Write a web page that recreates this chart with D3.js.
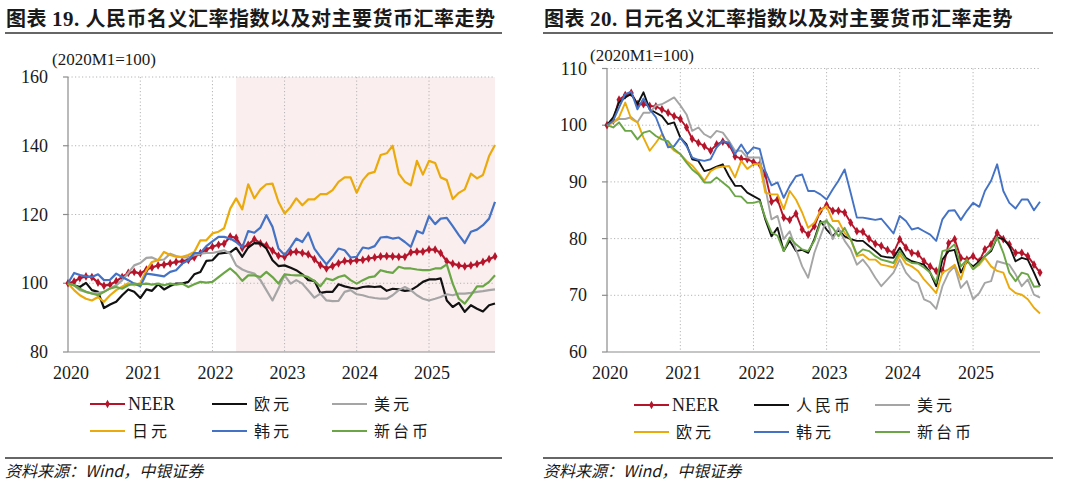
<!DOCTYPE html>
<html>
<head>
<meta charset="utf-8">
<script src="https://cdn.jsdelivr.net/npm/d3@7"></script>
<style>
body{margin:0;background:#fff;}
svg{display:block;}
.num{font-family:"Liberation Serif","Times New Roman",serif;fill:#1a1a1a;}
.cjk{font-family:"Noto Sans CJK SC",sans-serif;fill:#1a1a1a;}
</style>
</head>
<body>
<svg id="chart" width="1080" height="488"></svg>
<script>
var months = d3.timeMonth.range(new Date(2020,0,1), new Date(2026,0,1));
var yearLabels = [2020,2021,2022,2023,2024,2025];

// 图表19 人民币
var neerL = [100,100.5,101.5,102,101.8,100.2,99.3,99.6,100.6,101.8,
	103,103.3,102.8,104,104.6,105.2,105.4,105.8,106.2,106.4,
	106.8,107.5,108.8,109.8,110.6,111.2,111.5,113.6,113.2,110.3,
	111.2,112.8,111.6,111,109.5,108,107.7,109,109.2,108.8,
	108.4,107,105.3,104.3,105,105.8,106.5,106.4,106.7,106.8,
	107.2,107.5,107.8,107.9,107.8,107.7,107.7,109,109.2,109.2,
	109.8,109.8,108.8,106.4,105.7,105.2,104.9,105.2,105.6,106.2,
	107,107.8];
var eurL = [100,99.4,98.9,100.1,98,97.5,92.8,93.8,94.6,96.5,
	98.2,97.5,95.7,98.2,97.8,99.7,98.2,99.2,99.9,99.9,
	100.4,102.6,103.3,106.5,106.7,108.6,108.8,109,110.3,107.7,
	110.4,111.7,111.6,110.1,106.7,105,105.2,104.5,103.8,102.6,
	100.9,100.7,97.2,97.5,97.5,99.7,99.1,98.7,98.4,98.9,
	99.1,98.9,99.1,97.8,98.4,98.2,97.8,98,99.1,100.4,
	101.1,101.1,101.4,95,93.1,94.3,91.7,93.6,92.6,91.8,
	93.6,94.1];
var usdL = [100,99.4,98,97.5,97,97.2,97.5,98.5,99.4,100.9,
	103,105.2,105.9,107.4,107.5,106.7,106.9,108.6,107.9,107.5,
	107.5,108.2,108.6,108.8,108.8,109.2,109.6,108.6,105.2,104,
	103.3,102.8,100.9,98,95,98.5,102.3,99.9,100.9,99.9,
	97.9,95.8,97,95,94.8,94.9,97.5,98,96.8,96.5,
	96,95.7,95.5,95.5,96.5,98,98.9,98,96.5,95.5,
	95,95.5,96,96.8,96.5,97,97,97.2,97.5,97.7,
	98,98.2];
var jpyL = [100,98,96.5,95.5,95,96,94.6,96.5,98,99,
	100,99.4,100,103.8,106.2,106.7,109.1,108.2,107.7,107.7,
	108.2,109.1,112.5,112.5,114.5,115,116,121.7,124.7,121.5,
	128.8,124.7,127.3,128.8,129,123.7,120.3,122.2,124.7,122.7,
	124.4,124.4,125.9,125.9,127.1,129.5,130.8,130.8,126.3,130,
	131.9,132.4,137.3,137.8,140,131.9,129.5,128.5,135.6,131.6,
	135.6,135,130.8,130,124.5,126.3,127.3,131.9,130.5,131.5,
	137,140.2];
var krwL = [100,103,102.4,102,101.8,102.6,100.9,101,102.8,101.8,
	100.9,99.9,99.1,102.8,102.6,102.3,102,103.3,103.8,105.7,
	106.7,108.8,108.8,110.8,112.2,113.5,113.5,113,112,110.4,
	115.2,114.7,116.2,119.8,116.4,110.1,108.2,110.5,113,112,
	114.7,110.1,107.7,105.5,107.7,110.1,109.6,107.5,107.7,110.4,
	110.1,110.8,113.3,113.5,113,113.3,112,110.6,115.2,114.5,
	119.5,117.2,118.8,119,116.6,114,111.7,115,115.6,116.9,
	118.8,123.7];
var twdL = [100,99.4,98.4,97.5,97,96.5,97.5,98.5,98.9,98.4,
	99.4,99.9,99.7,99.9,99.6,99.9,99.4,99.9,99.6,99.9,
	98.9,99.7,100.4,100.2,100.4,101.8,103,104.3,102.8,100.7,
	102.3,102.3,101.8,103.3,101.8,99.9,102.6,102.4,102.3,102.3,
	101.8,100.7,99.1,101.4,100.9,101.8,102.3,100.9,99.9,100.9,
	101.7,102,103.8,103.3,103,104.8,104.3,104.3,104,103.8,
	103.8,104.3,104.3,105.5,99.9,95.5,94.1,96.5,99.1,99.1,
	100.4,102.3];

// 图表20 日元
var neerR = [100,100.8,104.5,105.3,105.7,103.7,103.7,103.4,103.3,102.8,
	102.2,101.6,101.1,99.6,97.6,96.9,96.3,95.5,96.6,97.1,
	96.6,94.5,94.1,94,93.5,93.1,91.3,86.5,86.9,83.7,
	83.3,84.4,81.6,80.7,82.2,84.9,85.9,84.9,84.9,84.6,
	82.8,81.3,81.2,80,79.1,78.7,78,77.5,79.9,78.4,
	77.5,77.3,76,75.1,74.3,74.3,79.2,79.9,76.6,76.3,
	76.9,76,78.1,79,81,79.9,79,77.5,77.5,76.9,
	75.4,74];
var cnyR = [100,101.4,104,104.9,105.5,103.7,105.8,102.8,102.2,101.6,
	100.2,100.5,97.8,96.6,94,93.7,91.9,92.2,92.7,93.1,
	91,89.3,89.3,88.1,87.5,86.9,83.4,80.4,81.9,77.8,
	79.6,77.8,78,77.5,79.9,83.1,81.6,80.4,81.6,80.4,
	79.9,79.6,79.6,78.7,77.8,76.9,76.7,76.6,78.4,76.6,
	76,75.7,75.4,74,71.6,76.3,77.8,78,74,76,
	75.1,76,76.9,77.8,80.2,79.9,78.7,76,76.6,76.3,
	74,71.6];
var usdR = [100,100.5,101.1,101.1,101.4,100.5,102.2,102.2,103.5,103.7,
	104.3,104.9,103.5,101.9,99,99.6,98.4,97.8,99,98.7,
	97.2,95.5,95.5,94.3,94.3,94.3,89,83.4,84,79.9,
	81.3,78.1,75.1,73.1,77.5,80.4,83.4,79.9,81.9,79.6,
	78.1,75.4,76.3,74.9,73.1,71.6,72.8,74,76.3,74,
	72.8,72.2,69.3,68.8,67.6,71.6,74,75.1,71.3,72.5,
	69.3,70.4,72.2,72.5,76,75.7,75.4,73.7,71.6,72.8,
	70.1,69.6];
var eurR = [100,100.5,101.4,104,101.1,100.5,97.8,95.5,96.9,98.4,
	96.6,95.5,94.9,93.7,92.9,91.6,90.2,91.9,92.5,92.7,
	92.8,90.8,93.7,92.3,93.1,93.1,88.1,87.8,87.8,85.2,
	88.4,86.9,84.6,81.9,82.8,84.9,85.7,83.1,83.1,81,
	79.9,76.9,77.2,76.3,76.3,75.4,75.2,74.9,77.2,75.6,
	75.1,74.3,72.8,71.6,70.4,74,74.6,75.4,72.8,76.3,
	74.6,75.4,76.6,75.1,74.3,74,71.3,70.4,70.1,69.3,
	67.8,66.8];
var krwR = [100,100.8,103.1,105.5,105.9,102.8,104.7,102.8,101.4,98.7,
	96.1,96.3,97.8,96.3,94.3,93.9,93.7,94,96.1,97.2,
	96.9,94.9,96.6,94.9,96.1,95.8,91.9,89.4,89.9,87.2,
	89.3,91,91.3,88.4,88.4,87.8,86.9,88.7,90.2,92.2,
	88.1,83.7,83.7,83.5,83.3,83.5,82.2,80.9,84,83.1,
	81.6,81.9,81.3,80.7,79.6,83.4,84.9,85,83.3,84.9,
	86.3,85.6,88.4,90.2,93.1,88.4,86.3,85.3,86.9,86.9,
	85,86.5];
var twdR = [100,99.6,100.5,99,99,97.5,98.7,99,98.1,97.5,
	97.2,95.8,94.9,93.4,92.2,91.3,89.9,89.9,90.8,89.9,
	89,87.5,87.4,86.3,86.3,86.6,83.7,81.1,80.5,77.8,
	80.2,79,78.1,77.8,79.6,82.8,83.1,81.9,80.4,81.9,
	79.9,77.2,78.1,77.8,76.9,76.3,76,75.7,77.8,76.3,
	75.7,75.6,74.9,74,72.2,77.8,78.1,79,75.1,76.3,
	74.6,75.7,76.9,78.1,80.2,77.5,74,72.5,74,73.7,
	71.5,71.6];

var yTicksL = [80,100,120,140,160];
var yTicksR = [60,70,80,90,100,110];
var shadeL = [new Date(2022,4,1), months[months.length-1]];

var C = {neer:'#b5152b', black:'#111', gray:'#a5a5a5', gold:'#ebaa0c', blue:'#4472c4', green:'#6aa645'};

var svg = d3.select('#chart');

function drawPanel(p){
	var g = svg.append('g'),
		x = d3.scaleTime().domain([months[0], months[months.length-1]]).range([p.left, p.right]),
		y = d3.scaleLinear().domain([p.yTicks[0], p.yTicks[p.yTicks.length-1]]).range([p.bottom, p.top]);

	// title
	var t = g.append('text').attr('class','cjk').attr('x',p.x0+1).attr('y',26)
		.style('font-size','20px').style('font-weight','bold').style('letter-spacing','0.5px');
	t.append('tspan').text('图表 ');
	t.append('tspan').attr('class','num').style('font-size','21px').text(p.num+'. ');
	t.append('tspan').text(p.title);
	g.append('line').attr('x1',p.x0).attr('x2',p.x1).attr('y1',33).attr('y2',33)
		.attr('stroke','#333').attr('stroke-width',1.6);

	if (p.shade){
		g.append('rect').attr('x',x(p.shade[0])).attr('y',p.top)
			.attr('width',x(p.shade[1])-x(p.shade[0])).attr('height',p.bottom-p.top)
			.attr('fill','#fbeeee');
	}

	// grid
	g.selectAll('.hgrid').data(p.yTicks.slice(1)).enter().append('line')
		.attr('x1',p.left).attr('x2',p.right)
		.attr('y1',function(d){ return y(d); }).attr('y2',function(d){ return y(d); })
		.attr('stroke','#b4b4b4').attr('stroke-dasharray','1.2,2.3');
	g.selectAll('.vgrid').data(yearLabels.slice(1)).enter().append('line')
		.attr('x1',function(d){ return x(new Date(d,0,1)); }).attr('x2',function(d){ return x(new Date(d,0,1)); })
		.attr('y1',p.top).attr('y2',p.bottom)
		.attr('stroke','#b4b4b4').attr('stroke-dasharray','1.2,2.3');

	// axes
	g.append('line').attr('x1',p.left).attr('x2',p.left).attr('y1',p.top).attr('y2',p.bottom)
		.attr('stroke','#8c8c8c').attr('stroke-width',1.2);
	g.append('line').attr('x1',p.left).attr('x2',p.right).attr('y1',p.bottom).attr('y2',p.bottom)
		.attr('stroke','#8c8c8c').attr('stroke-width',1.2);
	g.selectAll('.ytick').data(p.yTicks).enter().append('line')
		.attr('x1',p.left-5).attr('x2',p.left)
		.attr('y1',function(d){ return y(d); }).attr('y2',function(d){ return y(d); })
		.attr('stroke','#8c8c8c').attr('stroke-width',1.2);
	g.selectAll('.ylab').data(p.yTicks).enter().append('text')
		.attr('class','num').attr('x',p.left-20).attr('y',function(d){ return y(d)+6; })
		.attr('text-anchor','end').style('font-size','18px').text(function(d){ return d; });
	g.selectAll('.xlab').data(yearLabels).enter().append('text')
		.attr('class','num').attr('x',function(d){ return x(new Date(d,0,1))+3; }).attr('y',p.bottom+27)
		.attr('text-anchor','middle').style('font-size','18px').text(function(d){ return d; });
	g.append('text').attr('class','num').attr('x',p.unitX).attr('y',p.unitY)
		.style('font-size','17px').text('(2020M1=100)');

	// series
	var line = d3.line()
		.x(function(d,i){ return x(months[i]); })
		.y(function(d){ return y(d); });
	p.series.forEach(function(s){
		g.append('path').attr('d',line(s.data)).attr('fill','none')
			.attr('stroke',s.color).attr('stroke-width',p.lw).attr('stroke-linejoin','round');
		if (s.marker){
			g.selectAll('.mk').data(s.data).enter().append('path')
				.attr('d',d3.symbol().type(d3.symbolDiamond).size(22))
				.attr('transform',function(d,i){ return 'translate('+x(months[i])+','+y(d)+')'; })
				.attr('fill',s.color);
		}
	});

	// legend
	p.series.forEach(function(s,i){
		var lx = p.legendX[i%3], ly = p.legendY[Math.floor(i/3)];
		g.append('line').attr('x1',lx).attr('x2',lx+35).attr('y1',ly).attr('y2',ly)
			.attr('stroke',s.color).attr('stroke-width',2.2);
		if (s.marker){
			g.append('path').attr('d',d3.symbol().type(d3.symbolDiamond).size(20))
				.attr('transform','translate('+(lx+17.5)+','+ly+')').attr('fill',s.color);
		}
		var isNum = /^[A-Z]+$/.test(s.name);
		g.append('text').attr('class',isNum ? 'num' : 'cjk')
			.attr('x',lx+(isNum ? 38 : 42)).attr('y',ly+(isNum ? 6 : 5.5))
			.style('font-size',isNum ? '18px' : '16px').style('letter-spacing',isNum ? '0px' : '3px')
			.text(s.name);
	});

	// source
	g.append('line').attr('x1',p.x0).attr('x2',p.x1).attr('y1',458).attr('y2',458)
		.attr('stroke','#333').attr('stroke-width',1.3);
	g.append('text').attr('class','cjk').attr('x',p.x0).attr('y',477)
		.style('font-size','16px').style('font-style','italic')
		.text('资料来源：Wind，中银证券');
}

drawPanel({
	num:19, title:'人民币名义汇率指数以及对主要货币汇率走势',
	x0:5, x1:502, left:68, right:495, top:77, bottom:352,
	yTicks:yTicksL, shade:shadeL, lw:2.2, unitX:52, unitY:65,
	legendX:[90,212,332], legendY:[404,431],
	series:[
		{name:'NEER', data:neerL, color:C.neer, marker:true},
		{name:'欧元', data:eurL, color:C.black},
		{name:'美元', data:usdL, color:C.gray},
		{name:'日元', data:jpyL, color:C.gold},
		{name:'韩元', data:krwL, color:C.blue},
		{name:'新台币', data:twdL, color:C.green}
	]
});

drawPanel({
	num:20, title:'日元名义汇率指数以及对主要货币汇率走势',
	x0:543, x1:1053, left:607, right:1040, top:68.5, bottom:352,
	yTicks:yTicksR, shade:null, lw:1.9, unitX:590, unitY:61,
	legendX:[634,754,875], legendY:[405,432],
	series:[
		{name:'NEER', data:neerR, color:C.neer, marker:true},
		{name:'人民币', data:cnyR, color:C.black},
		{name:'美元', data:usdR, color:C.gray},
		{name:'欧元', data:eurR, color:C.gold},
		{name:'韩元', data:krwR, color:C.blue},
		{name:'新台币', data:twdR, color:C.green}
	]
});
</script>
</body>
</html>
